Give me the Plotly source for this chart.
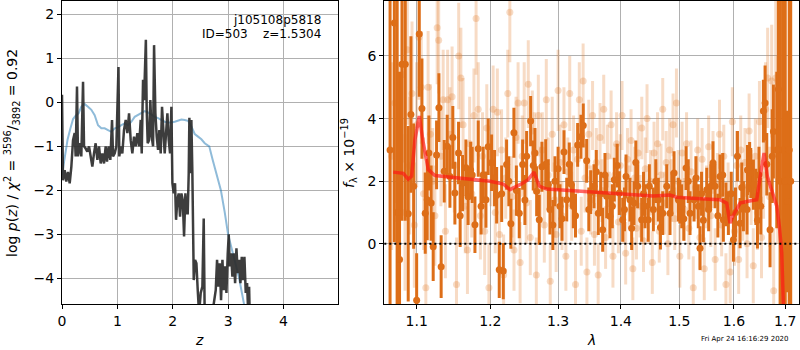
import plotly.graph_objects as go

# ---------------- left panel: p(z) ----------------
z_pz = [0.000, 0.018, 0.048, 0.078, 0.108, 0.139, 0.169, 0.199, 0.229, 0.247, 0.271, 0.289, 0.319, 0.349,
        0.380, 0.398, 0.428, 0.458, 0.488, 0.518, 0.548, 0.578, 0.608, 0.639, 0.669, 0.699, 0.729, 0.759,
        0.789, 0.813, 0.843, 0.873, 0.904, 0.922, 0.952, 0.982, 1.020, 1.035, 1.060, 1.090, 1.120, 1.151,
        1.181, 1.211, 1.241, 1.271, 1.301, 1.331, 1.361, 1.392, 1.422, 1.440, 1.464, 1.482, 1.515, 1.530,
        1.548, 1.572, 1.596, 1.620, 1.645, 1.663, 1.687, 1.711, 1.735, 1.759, 1.783, 1.807, 1.831, 1.855,
        1.880, 1.904, 1.928, 1.952, 1.976, 1.994, 2.018, 2.042, 2.060, 2.084, 2.108, 2.133, 2.157, 2.181,
        2.205, 2.229, 2.253, 2.271, 2.289, 2.301, 2.319, 2.337, 2.355, 2.380, 2.404, 2.428, 2.452, 2.476,
        2.506, 2.536, 2.560, 2.578, 2.669, 2.777, 2.801, 2.825, 2.849, 2.873, 2.898, 2.922, 2.946, 2.970,
        2.994, 3.012, 3.030, 3.054, 3.078, 3.102, 3.127, 3.151, 3.175, 3.199, 3.223, 3.247, 3.271, 3.295,
        3.319, 3.343, 3.367, 3.380, 3.392]
logpz = [0.17, -1.77, -1.54, -1.80, -1.58, -1.84, -1.46, -0.86, -0.70, -1.23, 0.36, -1.23, -0.93, -1.23,
         0.47, -1.00, -1.05, -1.12, -1.00, -1.23, -1.46, -1.16, -0.93, -1.31, -1.00, -1.39, -1.16, -1.39,
         -1.00, -1.35, -1.00, -1.31, -0.40, -1.23, -1.16, -1.00, 0.80, -1.23, -1.00, -1.16, -0.63, -0.40,
         -0.70, -0.25, -0.86, -1.16, -0.78, -1.00, -0.70, -1.00, -0.40, -1.16, 0.51, 0.05, 1.42, -0.17,
         -0.93, -0.86, 0.05, -0.78, -1.00, 1.30, -0.25, -0.78, -1.08, -0.63, -1.16, -0.10, -0.70, -1.16,
         -0.70, -0.25, -0.86, -1.16, -0.10, -1.84, -2.07, -1.84, -2.67, -2.22, -2.07, -2.60, -2.07, -2.22,
         -3.05, -2.07, -2.52, -2.52, -1.61, -0.35, -1.61, -0.40, -1.61, -4.04, -3.58, -3.66, -4.27, -4.80,
         -4.33, -4.19, -2.64, -4.90, -5.20, -4.27, -3.58, -4.19, -3.66, -4.50, -3.58, -4.27, -3.73, -4.33,
         -3.43, -3.00, -3.73, -3.43, -3.96, -3.43, -4.11, -3.32, -3.88, -3.58, -4.11, -3.51, -4.04, -3.51,
         -4.33, -4.11, -4.90, -4.19, -4.90]

z_chi = [0.00, 0.05, 0.10, 0.15, 0.20, 0.25, 0.30, 0.349, 0.410, 0.470, 0.530, 0.590, 0.651, 0.711, 0.771,
         0.831, 0.892, 0.952, 1.012, 1.072, 1.133, 1.193, 1.253, 1.313, 1.373, 1.434, 1.494, 1.554, 1.614,
         1.675, 1.735, 1.795, 1.855, 1.916, 1.976, 2.036, 2.096, 2.157, 2.217, 2.277, 2.337, 2.398, 2.458,
         2.518, 2.578, 2.66, 2.72, 2.80, 2.87, 2.94, 3.00, 3.10, 3.20, 3.29, 3.35]
logchi = [-1.65, -1.20, -0.85, -0.60, -0.38, -0.30, -0.25, -0.10, -0.04, -0.10, -0.17, -0.29, -0.52, -0.59,
          -0.59, -0.63, -0.67, -0.59, -0.57, -0.52, -0.48, -0.52, -0.44, -0.33, -0.29, -0.25, -0.20, -0.23,
          -0.29, -0.33, -0.36, -0.40, -0.44, -0.46, -0.46, -0.44, -0.42, -0.39, -0.40, -0.42, -0.55, -0.72,
          -0.78, -0.84, -0.93, -1.00, -1.30, -1.70, -2.00, -2.50, -3.00, -3.50, -4.00, -4.60, -5.00]

# ---------------- right panel: spectrum ----------------
lam_light = [1.068, 1.072, 1.075, 1.078, 1.082, 1.085, 1.088, 1.091, 1.094, 1.097, 1.100,
             1.103, 1.106, 1.109, 1.112, 1.115, 1.118, 1.121, 1.124, 1.127, 1.129, 1.132, 1.135, 1.138,
             1.141, 1.144, 1.147, 1.150, 1.153, 1.156, 1.159, 1.162, 1.165, 1.168, 1.171, 1.174, 1.177,
             1.180, 1.183, 1.186, 1.189, 1.192, 1.195, 1.198,
             1.201, 1.204, 1.207, 1.210, 1.213, 1.216, 1.219, 1.222, 1.225, 1.228, 1.231, 1.234, 1.237,
             1.240, 1.243, 1.246, 1.249, 1.252, 1.255, 1.258, 1.261, 1.264, 1.267, 1.270, 1.273, 1.276,
             1.279, 1.282, 1.285, 1.288, 1.291, 1.294, 1.297,
             1.300, 1.303, 1.306, 1.309, 1.312, 1.315, 1.318, 1.321, 1.324, 1.327, 1.330, 1.333, 1.336,
             1.339, 1.342, 1.345, 1.348, 1.351, 1.354, 1.357, 1.360, 1.363, 1.366, 1.369, 1.372, 1.375,
             1.378, 1.381, 1.384, 1.387, 1.390, 1.393, 1.396, 1.399,
             1.402, 1.405, 1.408, 1.411, 1.414, 1.417, 1.420, 1.423, 1.426, 1.429, 1.432, 1.435, 1.438,
             1.441, 1.444, 1.447, 1.450, 1.453, 1.456, 1.459, 1.462, 1.465, 1.468, 1.471, 1.474, 1.477,
             1.480, 1.483, 1.486, 1.489, 1.492, 1.495, 1.498,
             1.501, 1.505, 1.509, 1.513, 1.517, 1.521, 1.525, 1.529, 1.533, 1.537, 1.541, 1.545, 1.549,
             1.553, 1.557, 1.561, 1.565, 1.569, 1.573, 1.577, 1.581, 1.585, 1.589, 1.593, 1.597,
             1.601, 1.605, 1.609, 1.613, 1.617, 1.621, 1.625, 1.629, 1.633, 1.637, 1.641, 1.645, 1.649,
             1.653, 1.657, 1.661, 1.665, 1.669, 1.673, 1.677, 1.681, 1.685, 1.689, 1.693, 1.697]
f_light = [2.8, 4.5, 0.8, 3.3, 5.4, 1.0, 6.2, 2.5, 4.8, 0.6, 3.8,
           6.6, 5.0, 1.6, -1.4, 5.0, 3.5, 2.0, 0.9, 6.9, 6.5, 2.8, 4.6, 0.4,
           4.6, 3.5, 4.7, 2.5, -1.3, 6.0, 5.3, 3.8, 1.2, -0.2, 3.2, 1.6, 4.1,
           7.2, 4.3, 0.9, 2.8, 0.4, 3.7, -1.4,
           2.6, 4.3, 1.0, 4.2, 0.3, 3.0, -1.0, 2.1, 4.8, 7.4, 1.5, -0.2, 3.4,
           4.5, -0.6, 2.8, 4.5, 1.3, 5.1, 0.2, 3.6, 2.9, -1.0, 4.1, 1.9, 3.0,
           0.6, 4.6, 2.2, -1.2, 3.5, 1.4, 0.3,
           4.9, 2.6, 0.9, 3.8, -0.4, 2.3, 4.8, 1.2, 3.0, -1.3, 2.7, 4.6, 0.4,
           5.2, 2.1, -0.9, 3.5, 1.4, 4.1, 0.3, 2.6, -1.0, 3.4, 1.7, 4.3, 0.2,
           2.8, 1.3, 3.8, -0.4, 2.2, 3.2, 0.7, 2.5,
           4.1, 1.0, -0.3, 2.7, 1.5, 3.3, -0.8, 2.1, 0.5, 2.9, 1.2, 3.7, 0.1,
           2.4, 4.0, 1.0, 2.0, -0.6, 2.9, 1.6, 3.2, 0.4, 2.2, 4.3, 1.3, 2.6,
           0.0, 3.0, 1.7, 3.8, 0.8, 4.5, 2.0,
           -0.4, 2.9, 1.1, 3.2, 0.5, 2.3, -1.4, 1.8, 3.0, 0.2, 2.7, -0.8, 1.5,
           3.1, 0.9, 2.6, -0.5, 1.9, 3.5, 0.6, 2.8, -1.3, 1.6, -0.9, 3.9,
           0.4, 2.5, -0.5, 3.0, 1.2, 2.6, 0.0, 3.6, 1.8, -0.7, 2.8, 1.0, 3.9,
           0.2, 2.2, 4.3, 5.3, 1.5, 5.2, -1.5, 5.3, 3.0, 2.0, 4.5, 1.0]
e_light = [3.0, 3.2, 3.0, 2.5, 2.8, 2.5, 2.4, 2.2, 2.3, 2.0, 2.0,
           2.0, 1.8, 1.8, 1.6, 1.8, 1.6, 1.7, 1.6, 1.8, 1.7, 1.6, 1.6, 1.5,
           1.6, 1.5, 1.6, 1.5, 1.5, 1.7, 1.6, 1.5, 1.5, 1.4, 1.5, 1.4, 1.5,
           1.8, 1.5, 1.4, 1.4, 1.4, 1.4, 1.4,
           1.4, 1.4, 1.3, 1.4, 1.3, 1.3, 1.3, 1.3, 1.4, 1.6, 1.3, 1.3, 1.3,
           1.3, 1.3, 1.3, 1.3, 1.3, 1.4, 1.2, 1.3, 1.3, 1.2, 1.3, 1.2, 1.2,
           1.2, 1.3, 1.2, 1.2, 1.2, 1.2, 1.2,
           1.3, 1.2, 1.1, 1.2, 1.1, 1.1, 1.2, 1.1, 1.1, 1.1, 1.1, 1.2, 1.1,
           1.2, 1.1, 1.1, 1.1, 1.1, 1.1, 1.0, 1.1, 1.0, 1.1, 1.0, 1.1, 1.0,
           1.0, 1.0, 1.1, 1.0, 1.0, 1.0, 1.0, 1.0,
           1.1, 1.0, 1.0, 1.0, 1.0, 1.0, 1.0, 1.0, 1.0, 1.0, 1.0, 1.0, 1.0,
           1.0, 1.1, 1.0, 1.0, 1.0, 1.0, 1.0, 1.0, 1.0, 1.0, 1.0, 1.0, 1.0,
           1.0, 1.0, 1.0, 1.0, 1.0, 1.1, 1.0,
           1.0, 1.0, 1.0, 1.0, 1.0, 1.0, 1.0, 1.0, 1.0, 1.0, 1.0, 1.0, 1.0,
           1.0, 1.0, 1.0, 1.0, 1.0, 1.1, 1.0, 1.0, 1.0, 1.0, 1.0, 1.1,
           1.1, 1.1, 1.1, 1.1, 1.1, 1.1, 1.1, 1.2, 1.2, 1.2, 1.2, 1.2, 1.3,
           1.3, 1.4, 1.5, 1.6, 1.6, 1.8, 2.0, 2.5, 3.0, 4.0, 5.0, 6.0]

lam_dark = [1.0660, 1.0714, 1.0750, 1.0780, 1.0811, 1.0853, 1.0891, 1.0926, 1.0961, 1.1000, 1.1034,
            1.1069, 1.1112, 1.1138, 1.1217, 1.1262, 1.1293, 1.1323, 1.1364, 1.1404, 1.1441, 1.1508,
            1.1558, 1.1613, 1.1659, 1.1724, 1.1746, 1.1784, 1.1830, 1.1900, 1.1938, 1.2018, 1.2090,
            1.2127, 1.2162, 1.2185, 1.2233, 1.2295, 1.2339, 1.2417, 1.2467, 1.2526, 1.2585, 1.2624,
            1.2675, 1.2714, 1.2754, 1.2811, 1.2876, 1.2952, 1.3029, 1.3091, 1.3133, 1.3173, 1.3236,
            1.3304, 1.3356, 1.3392, 1.3446, 1.3510, 1.3563, 1.3632, 1.3703, 1.3768, 1.3822, 1.3892,
            1.3975, 1.4031, 1.4086, 1.4152, 1.4219, 1.4281, 1.4349, 1.4405, 1.4479, 1.4548, 1.4634,
            1.4710, 1.4780, 1.4837, 1.4908, 1.4984, 1.5044, 1.5121, 1.5192, 1.5264, 1.5341, 1.5372,
            1.5433, 1.5495, 1.5568, 1.5647, 1.5740, 1.5802, 1.5896, 1.5991, 1.6067, 1.6117, 1.6181,
            1.6258, 1.6322, 1.6373, 1.6451, 1.6516, 1.6567, 1.6633, 1.6698, 1.6764, 1.6831, 1.6863,
            1.6900, 1.6950, 1.7000, 1.7044, 1.7080, 1.7110,
            1.1160, 1.1190, 1.1480, 1.1580, 1.1690, 1.1870, 1.1970, 1.2060, 1.2265, 1.2375, 1.2500,
            1.2650, 1.2850, 1.2920, 1.3000, 1.3060, 1.3205, 1.3270, 1.3480, 1.3600, 1.3670, 1.3740,
            1.3860, 1.3940, 1.4060, 1.4180, 1.4250, 1.4380, 1.4460, 1.4590, 1.4670, 1.4870, 1.5010,
            1.5080, 1.5160, 1.5300, 1.5400, 1.5530, 1.5610, 1.5700, 1.5790, 1.5850, 1.5950, 1.6030,
            1.6150, 1.6250, 1.6300, 1.6420, 1.6480, 1.6600, 1.6740]
f_dark = [3.00, 7.05, 1.00, -0.50, 5.74, 5.74, 0.96, 4.13, 1.84, -1.80, 6.70,
          4.32, 0.98, 1.41, -0.09, 2.84, 4.35, -0.73, 2.32, 3.12, 2.15, 1.62,
          2.90, 1.94, 2.43, 2.36, 2.20, 0.61, 3.04, 2.20, 1.41, 2.59, 1.55,
          -0.83, 1.60, -0.87, 2.53, 0.64, 3.55, 0.98, 2.53, 2.80, 3.92, 2.50,
          1.68, 0.77, 2.46, 2.54, 1.10, 2.00, 1.20, 2.93, 1.41, 2.54, 1.20,
          3.16, 3.42, 3.78, 2.65, 1.65, 1.84, 0.98, 0.45, 1.52, 0.88, 2.05,
          1.62, 0.77, 2.15, 1.41, 1.30, 1.84, 0.77, 1.20, 1.84, 1.10, 1.41,
          0.98, 1.84, 0.98, 2.26, 1.41, 1.20, 2.42, 0.98, 1.41, 1.20, -0.14,
          0.75, 1.73, 1.84, 1.84, 2.15, 0.77, 0.98, 0.13, 2.80, 0.66, 1.20,
          2.36, 2.26, 1.89, 0.75, 1.20, 4.24, 2.54, 0.45, 3.59, 3.00, 4.94,
          2.00, 3.00, 2.00, 1.35, 3.00, 2.00,
          2.90, 1.30, 3.40, 0.90, 1.50, 1.20, 3.10, 2.10, 2.00, 1.70, 1.40,
          2.90, 1.90, 0.60, 2.40, 0.80, 1.90, 0.90, 1.10, 2.30, 1.60, 2.20,
          1.20, 2.50, 1.10, 0.50, 2.60, 1.60, 0.77, 2.00, 0.52, 1.60, 1.35,
          0.80, 2.00, 2.10, 1.60, 1.10, 2.58, 0.90, 2.20, 1.26, 1.60, 1.00,
          1.80, 1.10, 2.45, 1.50, 2.20, 4.50, 2.80]
e_dark = [9.0, 7.0, 8.0, 6.0, 5.0, 5.0, 2.8, 2.5, 2.0, 1.5, 2.0,
          1.6, 1.3, 1.3, 1.1, 1.1, 1.1, 1.0, 1.0, 1.0, 1.0, 1.0,
          1.0, 0.9, 0.9, 0.9, 0.9, 0.9, 0.9, 0.9, 0.9, 0.9, 0.9,
          0.9, 0.9, 0.9, 0.8, 0.8, 0.8, 0.8, 0.8, 0.8, 0.8, 0.8,
          0.8, 0.8, 0.8, 0.8, 0.8, 0.8, 0.7, 0.7, 0.7, 0.7, 0.7,
          0.7, 0.7, 0.7, 0.7, 0.7, 0.7, 0.7, 0.7, 0.7, 0.7, 0.7,
          0.7, 0.7, 0.7, 0.7, 0.7, 0.7, 0.7, 0.7, 0.7, 0.7, 0.7,
          0.7, 0.7, 0.7, 0.7, 0.7, 0.7, 0.7, 0.7, 0.7, 0.7, 0.7,
          0.7, 0.7, 0.7, 0.7, 0.7, 0.7, 0.7, 0.7, 0.8, 0.8, 0.8,
          0.8, 0.8, 0.8, 0.9, 0.9, 1.0, 1.0, 1.2, 1.5, 2.5, 3.0,
          6.0, 9.0, 9.0, 2.9, 9.0, 9.0,
          1.2, 1.2, 1.0, 1.0, 0.9, 0.9, 0.9, 0.9, 0.8, 0.8, 0.8,
          0.8, 0.8, 0.8, 0.7, 0.7, 0.7, 0.7, 0.7, 0.7, 0.7, 0.7,
          0.7, 0.7, 0.7, 0.7, 0.7, 0.7, 0.7, 0.7, 0.7, 0.7, 0.7,
          0.7, 0.7, 0.7, 0.7, 0.7, 0.7, 0.7, 0.7, 0.7, 0.7, 0.8,
          0.8, 0.8, 0.8, 0.9, 0.9, 1.2, 1.5]

lam_model = [1.0700, 1.0828, 1.0891, 1.0935, 1.0978, 1.1034, 1.1086, 1.1152, 1.1240, 1.1533, 1.1760,
             1.1994, 1.2185, 1.2281, 1.2427, 1.2549, 1.2635, 1.2714, 1.2826, 1.3133, 1.3551, 1.3985,
             1.4547, 1.4837, 1.4955, 1.5373, 1.5740, 1.5865, 1.5927, 1.5979, 1.6117, 1.6245, 1.6437,
             1.6515, 1.6580, 1.6645, 1.6731, 1.6831, 1.6883, 1.6930, 1.6959, 1.6975]
f_model = [2.29, 2.25, 2.06, 2.16, 3.33, 4.08, 3.23, 2.37, 2.18, 2.10, 2.05,
           2.00, 1.91, 1.73, 1.89, 2.05, 2.29, 1.84, 1.75, 1.71, 1.65, 1.59,
           1.53, 1.56, 1.49, 1.44, 1.41, 1.30, 0.66, 0.88, 1.30, 1.35, 1.41,
           2.26, 2.90, 2.15, 1.73, 1.20, 0.55, -0.30, -1.80, -2.50]

x_ticks_left = [0, 1, 2, 3, 4]
y_ticks_left = [-4, -3, -2, -1, 0, 1, 2]
x_ticks_right = [1.1, 1.2, 1.3, 1.4, 1.5, 1.6, 1.7]
y_ticks_right = [0, 2, 4, 6]

DARK = "rgb(221,110,24)"
LIGHT = "rgba(226,125,45,0.28)"

fig = go.Figure()
fig.add_trace(go.Scatter(x=z_chi, y=logchi, mode="lines",
                         line=dict(color="rgba(31,119,180,0.5)", width=2), xaxis="x", yaxis="y"))
fig.add_trace(go.Scatter(x=z_pz, y=logpz, mode="lines",
                         line=dict(color="rgba(45,45,45,0.92)", width=2.5), xaxis="x", yaxis="y"))

fig.add_trace(go.Scatter(x=lam_light, y=f_light, mode="markers",
                         marker=dict(color=LIGHT, size=7, line=dict(width=0)),
                         error_y=dict(type="data", array=e_light, color=LIGHT, thickness=3, width=0),
                         xaxis="x2", yaxis="y2"))
fig.add_trace(go.Scatter(x=lam_dark, y=f_dark, mode="markers",
                         marker=dict(color=DARK, size=7, line=dict(width=0)),
                         error_y=dict(type="data", array=e_dark, color=DARK, thickness=3, width=0),
                         xaxis="x2", yaxis="y2"))
fig.add_trace(go.Scatter(x=lam_model, y=f_model, mode="lines",
                         line=dict(color="rgba(255,20,20,0.65)", width=3.5), xaxis="x2", yaxis="y2"))

axis_common = dict(showgrid=True, gridcolor="#b0b0b0", gridwidth=1, showline=True, linecolor="black",
                   linewidth=1.2, mirror=True, ticks="outside", ticklen=4, tickwidth=1, tickcolor="black",
                   zeroline=False, tickfont=dict(family="DejaVu Sans", size=14, color="black"))

fig.update_layout(
    width=800, height=350, margin=dict(l=0, r=0, t=0, b=0, autoexpand=False),
    paper_bgcolor="white", plot_bgcolor="white", showlegend=False,
    font=dict(family="DejaVu Sans", color="black"),
    xaxis=dict(domain=[0.0775, 0.4228], range=[0, 4.99], tickvals=x_ticks_left, **axis_common),
    yaxis=dict(domain=[0.1314, 0.9971], range=[-4.584, 2.303], tickvals=y_ticks_left,
               ticktext=["\u22124", "\u22123", "\u22122", "\u22121", "0", "1", "2"], **axis_common),
    xaxis2=dict(domain=[0.4804, 0.9991], type="log", range=[0.02481, 0.23765], tickvals=x_ticks_right,
                ticktext=[str(v) for v in x_ticks_right], anchor="y2", **axis_common),
    yaxis2=dict(domain=[0.1314, 0.9971], range=[-1.923, 7.756], tickvals=y_ticks_right, anchor="x2",
                **axis_common),
    shapes=[dict(type="line", xref="x2 domain", yref="y2", x0=0, x1=1, y0=0, y1=0,
                 line=dict(color="black", width=2, dash="2px,3px"))],
)

ann = [
    dict(text="j105108p5818", x=0.404, y=1 - 20 / 350, xanchor="right", yanchor="middle", size=12),
    dict(text="ID=503    z=1.5304", x=0.404, y=1 - 34 / 350, xanchor="right", yanchor="middle", size=12),
    dict(text="<i>z</i>", x=199 / 800, y=1 - 340 / 350, xanchor="center", yanchor="middle", size=14),
    dict(text="<i>λ</i>", x=591 / 800, y=1 - 340 / 350, xanchor="center", yanchor="middle", size=14),
    dict(text="Fri Apr 24 16:16:29 2020", x=745 / 800, y=1 - 339 / 350, xanchor="center",
         yanchor="middle", size=7),
]
for a in ann:
    fig.add_annotation(text=a["text"], xref="paper", yref="paper", x=a["x"], y=a["y"],
                       xanchor=a["xanchor"], yanchor=a["yanchor"], showarrow=False,
                       font=dict(family="DejaVu Sans", size=a["size"], color="black"))

fig.add_annotation(text="log <i>p</i>(<i>z</i>) / <i>χ</i><sup>2</sup> = <sup>3596</sup>/<sub>3892</sub> = 0.92",
                   xref="paper", yref="paper", x=12 / 800, y=1 - 153 / 350, textangle=-90,
                   xanchor="center", yanchor="middle", showarrow=False,
                   font=dict(family="DejaVu Sans", size=14, color="black"))
fig.add_annotation(text="<i>f</i><sub>λ</sub> × 10<sup>−19</sup>",
                   xref="paper", yref="paper", x=349 / 800, y=1 - 153 / 350, textangle=-90,
                   xanchor="center", yanchor="middle", showarrow=False,
                   font=dict(family="DejaVu Sans", size=14, color="black"))

fig.write_html("out.html", config={"displayModeBar": False},
               post_script="document.body.style.margin='0px';document.body.style.overflow='hidden';")
